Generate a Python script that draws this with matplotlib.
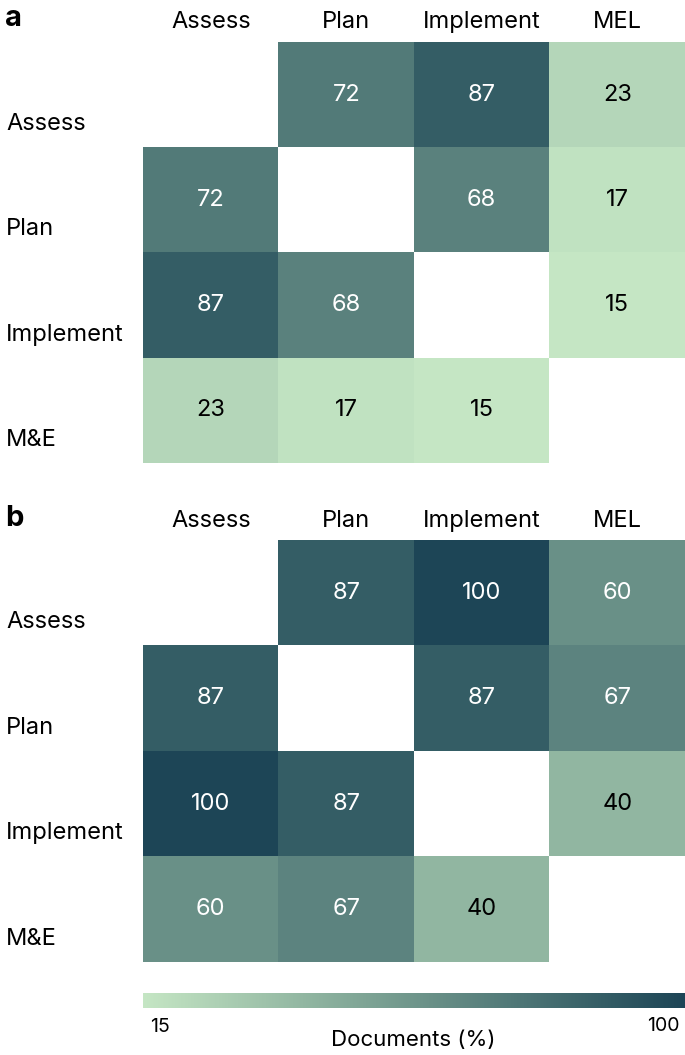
import numpy as np
import matplotlib
matplotlib.use("Agg")
import matplotlib.pyplot as plt
from matplotlib.colors import LinearSegmentedColormap, Normalize
from matplotlib.transforms import blended_transform_factory

plt.rcParams['font.family'] = ['Inter', 'DejaVu Sans']

col_labels = ["Assess", "Plan", "Implement", "MEL"]
row_labels = ["Assess", "Plan", "Implement", "M&E"]

# panel a values (diagonal empty)
values_a = [
    [np.nan, 72, 87, 23],
    [72, np.nan, 68, 17],
    [87, 68, np.nan, 15],
    [23, 17, 15, np.nan],
]
# panel b values
values_b = [
    [np.nan, 87, 100, 60],
    [87, np.nan, 87, 67],
    [100, 87, np.nan, 40],
    [60, 67, 40, np.nan],
]

vmin, vmax = 15, 100

cmap = LinearSegmentedColormap.from_list("docs", [
    (0.0, "#c5e6c4"),
    (0.294, "#92b7a2"),
    (0.529, "#6a9188"),
    (0.847, "#355e66"),
    (1.0, "#1d4556"),
])
cmap.set_bad("white")
norm = Normalize(vmin=vmin, vmax=vmax)

W, H = 685, 1055
fig = plt.figure(figsize=(W / 100, H / 100), dpi=100)

FS = 17


def px_axes(x0, y0, x1, y1):
    return fig.add_axes([x0 / W, 1 - y1 / H, (x1 - x0) / W, (y1 - y0) / H])


def draw_panel(ax, data, letter, top_px):
    arr = np.ma.masked_invalid(np.array(data, dtype=float))
    ax.imshow(arr, cmap=cmap, norm=norm, aspect="auto", interpolation="nearest")
    ax.set_xlim(-0.5, 3.5)
    ax.set_ylim(3.5, -0.5)
    for s in ax.spines.values():
        s.set_visible(False)
    ax.set_xticks([])
    ax.set_yticks([])

    for i in range(4):
        for j in range(4):
            v = data[i][j]
            if np.isnan(v):
                continue
            color = "white" if v >= 50 else "black"
            ax.text(j, i, f"{v:.0f}", ha="center", va="center",
                    fontsize=FS, color=color)

    # column labels above the grid
    ctrans = blended_transform_factory(ax.transData, fig.transFigure)
    for j, lab in enumerate(col_labels):
        ax.text(j, 1 - (top_px + 3) / H, lab, ha="center", va="center",
                fontsize=FS, transform=ctrans, clip_on=False)
    # row labels, left aligned, sitting low in each row
    rtrans = blended_transform_factory(fig.transFigure, ax.transData)
    for i, lab in enumerate(row_labels):
        ax.text(6 / W, i + 0.28, lab, ha="left", va="center",
                fontsize=FS, transform=rtrans)

    fig.text(5 / W, 1 - top_px / H, letter, fontsize=21, fontweight="bold",
             ha="left", va="center")


ax_a = px_axes(143, 42, 685, 463)
draw_panel(ax_a, values_a, "a", 19)

ax_b = px_axes(143, 540, 685, 962)
draw_panel(ax_b, values_b, "b", 518)

# colorbar
cax = px_axes(143, 993, 685, 1008)
grad = np.linspace(vmin, vmax, 256).reshape(1, -1)
cax.imshow(grad, cmap=cmap, norm=norm, aspect="auto",
           extent=[vmin, vmax, 0, 1])
cax.set_xticks([])
cax.set_yticks([])
for s in cax.spines.values():
    s.set_visible(False)
fig.text(150 / W, 1 - 1027 / H, "15", fontsize=14, ha="left", va="center")
fig.text(680 / W, 1 - 1026 / H, "100", fontsize=14, ha="right", va="center")
fig.text(413 / W, 1 - 1040 / H, "Documents (%)", fontsize=16,
         ha="center", va="center")

fig.savefig("out.png", dpi=100)
